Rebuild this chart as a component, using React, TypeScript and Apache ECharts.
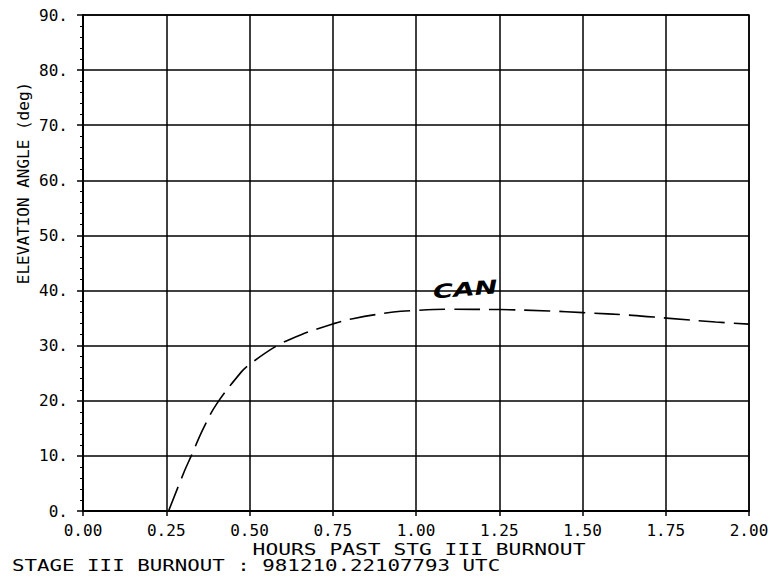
import React, { useEffect, useRef } from "react";
import * as echarts from "echarts";

// Elevation angle of the tracking station vs. time after stage III burnout
const hoursPast: number[] = [
  0.257, 0.305, 0.325, 0.36, 0.4, 0.475, 0.5, 0.58, 0.655, 0.753,
  0.81, 0.932, 1.0, 1.1, 1.252, 1.4, 1.502, 1.65, 1.752, 1.9, 2.0,
];
const elevationDeg: number[] = [
  0, 7.3, 10, 14.8, 19.3, 25.2, 26.6, 29.9, 32.0, 34.0,
  34.9, 36.1, 36.4, 36.6, 36.55, 36.3, 36.0, 35.5, 35.0, 34.3, 33.9,
];

const xTicks = { min: 0, max: 2, interval: 0.25 };
const yTicks = { min: 0, max: 90, interval: 10 };

const xTitle = "HOURS PAST STG III BURNOUT";
const yTitle = "ELEVATION ANGLE (deg)";
const caption = "STAGE III BURNOUT : 981210.22107793 UTC";
const note = "CAN";

const MONO = "'DejaVu Sans Mono', monospace";

export default function App() {
  const ref = useRef<HTMLDivElement>(null);

  useEffect(() => {
    if (!ref.current) return;
    const chart = echarts.init(ref.current, undefined, { renderer: "svg" });
    const ink = "#000";

    chart.setOption({
      animation: false,
      backgroundColor: "#fff",
      grid: {
        left: 83,
        top: 15,
        right: 27,
        bottom: 68,
        show: true,
        borderColor: ink,
        borderWidth: 1.5,
      },
      xAxis: {
        type: "value",
        min: xTicks.min,
        max: xTicks.max,
        interval: xTicks.interval,
        axisLine: { show: true, lineStyle: { color: ink, width: 2 } },
        axisTick: { show: true, length: 5, lineStyle: { color: ink, width: 1.5 } },
        axisLabel: {
          margin: 11,
          color: ink,
          fontFamily: MONO,
          fontSize: 16,
          formatter: (v: number) => v.toFixed(2),
        },
        splitLine: { show: true, lineStyle: { color: ink, width: 1.5 } },
      },
      yAxis: {
        type: "value",
        min: yTicks.min,
        max: yTicks.max,
        interval: yTicks.interval,
        axisLine: { show: true, lineStyle: { color: ink, width: 2 } },
        axisTick: { show: true, length: 6, lineStyle: { color: ink, width: 1.5 } },
        minorTick: { show: true, splitNumber: 5, length: 3, lineStyle: { color: ink, width: 1 } },
        axisLabel: {
          margin: 15,
          color: ink,
          fontFamily: MONO,
          fontSize: 16,
          formatter: (v: number) => `${v}.`,
        },
        splitLine: { show: true, lineStyle: { color: ink, width: 1.5 } },
      },
      series: [
        {
          type: "line",
          smooth: 0.35,
          showSymbol: false,
          symbol: "none",
          data: hoursPast.map((h, i) => [h, elevationDeg[i]]),
          lineStyle: { color: ink, width: 1.6, type: [26, 9] },
          z: 5,
        },
      ],
      graphic: [
        {
          type: "text",
          x: 23,
          y: 183,
          rotation: Math.PI / 2,
          style: {
            text: yTitle,
            fill: ink,
            font: `16px ${MONO}`,
            align: "center",
            verticalAlign: "middle",
          },
        },
        {
          type: "text",
          x: 419,
          y: 549,
          scaleX: 1.33,
          style: {
            text: xTitle,
            fill: ink,
            font: `16px ${MONO}`,
            align: "center",
            verticalAlign: "middle",
          },
        },
        {
          type: "text",
          x: 12,
          y: 565,
          scaleX: 1.3,
          style: {
            text: caption,
            fill: ink,
            font: `16px ${MONO}`,
            align: "left",
            verticalAlign: "middle",
          },
        },
        {
          type: "text",
          x: 433,
          y: 292,
          scaleX: 1.45,
          rotation: 0.08,
          z: 10,
          style: {
            text: note,
            fill: ink,
            font: "italic bold 19px 'DejaVu Sans', sans-serif",
            align: "left",
            verticalAlign: "middle",
          },
        },
      ],
    });

    return () => chart.dispose();
  }, []);

  return (
    <div
      ref={ref}
      style={{ position: "absolute", left: 0, top: 0, width: 776, height: 579 }}
    />
  );
}
